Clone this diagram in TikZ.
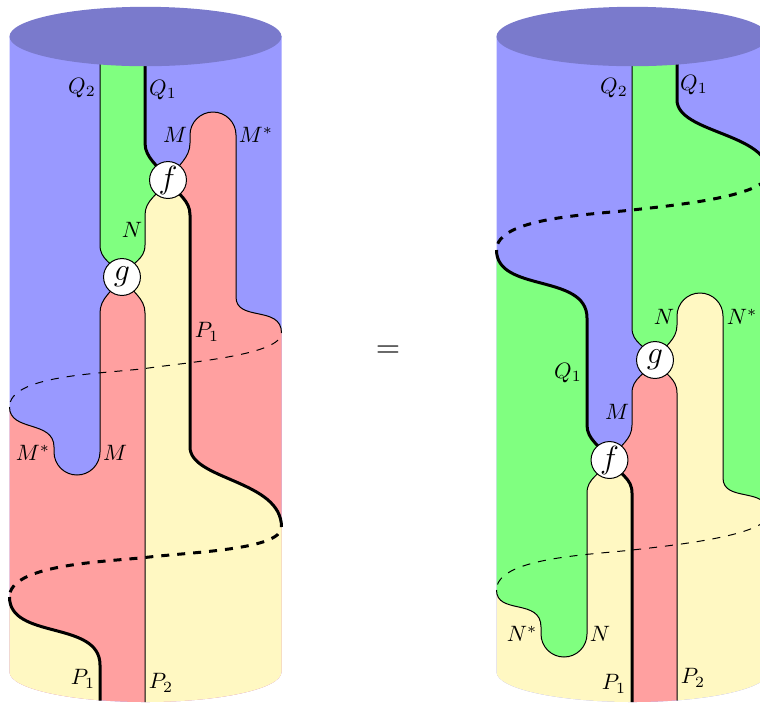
\documentclass[tikz,border=0pt]{standalone}
\definecolor{cblue}{RGB}{153,153,255}
\definecolor{ctop}{RGB}{122,122,204}
\definecolor{cgreen}{RGB}{128,255,128}
\definecolor{cred}{RGB}{255,160,160}
\definecolor{cyel}{RGB}{255,248,194}
\tikzset{
  thinline/.style={draw=black,line width=0.45pt},
  thickline/.style={draw=black,line width=1.35pt},
  thindash/.style={thinline,dash pattern=on 3.6pt off 3.6pt,dash phase=3.6pt},
  thickdash/.style={thickline,dash pattern=on 3.6pt off 3.6pt,dash phase=3.6pt},
  morph/.style={circle,draw=black,fill=white,line width=0.45pt,minimum size=16.6pt,inner sep=0pt,font=\Large},
  lab/.style={inner sep=0pt}
}
\begin{document}
\begin{tikzpicture}[x=0.45pt,y=-0.45pt]
\useasboundingbox (0,0) rectangle (760,703);
\clip (0,0) rectangle (760,703);
\coordinate (fL) at (168,180);
\coordinate (gL) at (122,277);
\coordinate (fR) at (609.5,460);
\coordinate (gR) at (655,360);
% ---------- left cylinder fills
\fill[cblue] (9.5,36) -- (281.5,36) -- (281.5,672) arc[start angle=0,end angle=180,x radius=136,y radius=30] -- cycle;
\begin{scope}
\clip (9.5,36) -- (281.5,36) -- (281.5,672) arc[start angle=0,end angle=180,x radius=136,y radius=30] -- cycle;
\fill[cred] (281.5,333) .. controls (281.5,305) and (236,322) .. (236,297) -- (236,135)
  .. controls (236,122.3) and (225.7,112) .. (213,112) .. controls (200.3,112) and (190,122.3) .. (190,135)
  -- (190,143) .. controls (190,158) and (178,165) .. (fL) -- (gL)
  .. controls (112,292) and (100,298) .. (100,313) -- (100,452)
  .. controls (100,464.7) and (89.7,475) .. (77,475) .. controls (64.3,475) and (54,464.7) .. (54,452)
  -- (54,447) .. controls (54,420) and (9.5,432) .. (9.5,407) -- (9.5,710) -- (281.5,710) -- cycle;
\fill[cyel] (fL) .. controls (178,195) and (190,200) .. (190,215) -- (190,447)
  .. controls (190,480) and (281.5,480) .. (281.5,527) -- (281.5,710) -- (145,710) -- (145,313)
  .. controls (145,298) and (132,292) .. (gL) .. controls (132,262) and (145,260) .. (145,245)
  -- (145,215) .. controls (145,200) and (158,195) .. (fL) -- cycle;
\fill[cyel] (9.5,597) .. controls (9.5,640) and (100,620) .. (100,665) -- (100,710) -- (9.5,710) -- cycle;
\fill[cgreen] (100,30) -- (100,245) .. controls (100,260) and (112,262) .. (gL)
  .. controls (132,262) and (145,260) .. (145,245) -- (145,215)
  .. controls (145,200) and (158,195) .. (fL) .. controls (158,165) and (145,158) .. (145,143) -- (145,30) -- cycle;
\end{scope}
% ---------- left strands
\draw[thinline] (100,60) -- (100,245) .. controls (100,260) and (112,262) .. (gL);
\draw[thickline] (145,60) -- (145,143) .. controls (145,158) and (158,165) .. (fL);
\draw[thinline] (236,135) .. controls (236,122.3) and (225.7,112) .. (213,112) .. controls (200.3,112) and (190,122.3) .. (190,135)
  -- (190,143) .. controls (190,158) and (178,165) .. (fL);
\draw[thinline] (fL) .. controls (158,195) and (145,200) .. (145,215) -- (145,245) .. controls (145,260) and (132,262) .. (gL);
\draw[thickline] (fL) .. controls (178,195) and (190,200) .. (190,215) -- (190,447)
  .. controls (190,480) and (281.5,480) .. (281.5,527);
\draw[thinline] (236,135) -- (236,297) .. controls (236,322) and (281.5,305) .. (281.5,333);
\draw[thinline] (gL) .. controls (112,292) and (100,298) .. (100,313) -- (100,452)
  .. controls (100,464.7) and (89.7,475) .. (77,475) .. controls (64.3,475) and (54,464.7) .. (54,452)
  -- (54,447) .. controls (54,420) and (9.5,432) .. (9.5,407);
\draw[thinline] (gL) .. controls (132,292) and (145,298) .. (145,313) -- (145,702);
\draw[thindash] (281.5,333) .. controls (281.5,355) and (190,362) .. (145,368.5) .. controls (100,374) and (9.5,375) .. (9.5,407);
\draw[thickdash] (281.5,527) .. controls (281.5,550) and (190,552) .. (145,557.5) .. controls (100,562) and (9.5,565) .. (9.5,597);
\draw[thickline] (9.5,597) .. controls (9.5,640) and (100,620) .. (100,665) -- (100,700.5);
\fill[ctop] (145.5,36.5) ellipse [x radius=136,y radius=29.7];
% ---------- right cylinder fills
\fill[cblue] (496.5,36) -- (768.5,36) -- (768.5,672) arc[start angle=0,end angle=180,x radius=136,y radius=30] -- cycle;
\begin{scope}
\clip (496.5,36) -- (768.5,36) -- (768.5,672) arc[start angle=0,end angle=180,x radius=136,y radius=30] -- cycle;
\fill[cgreen] (632,30) -- (677,30) -- (677,100) .. controls (677,133) and (768.5,133) .. (768.5,173)
  -- (768.5,514) .. controls (768.5,486) and (723,503) .. (723,478) -- (723,316)
  .. controls (723,303.3) and (712.7,293) .. (700,293) .. controls (687.3,293) and (677,303.3) .. (677,316)
  -- (677,325) .. controls (677,340) and (665,345) .. (gR) .. controls (645,345) and (632,343) .. (632,328) -- cycle;
\fill[cgreen] (496.5,250) .. controls (496.5,293) and (587,273) .. (587,318) -- (587,425)
  .. controls (587,440) and (600,445) .. (fR) .. controls (600,475) and (587,478) .. (587,493) -- (587,634)
  .. controls (587,646.7) and (576.7,657) .. (564,657) .. controls (551.3,657) and (541,646.7) .. (541,634)
  -- (541,627) .. controls (541,598) and (496.5,615) .. (496.5,590) -- cycle;
\fill[cyel] (723,316) -- (723,478) .. controls (723,503) and (768.5,486) .. (768.5,514) -- (768.5,710)
  -- (677,710) -- (677,393) .. controls (677,378) and (665,375) .. (gR) .. controls (665,345) and (677,340) .. (677,325)
  -- (677,316) .. controls (677,303.3) and (687.3,293) .. (700,293) .. controls (712.7,293) and (723,303.3) .. (723,316) -- cycle;
\fill[cyel] (496.5,590) .. controls (496.5,615) and (541,598) .. (541,627) -- (541,634)
  .. controls (541,646.7) and (551.3,657) .. (564,657) .. controls (576.7,657) and (587,646.7) .. (587,634)
  -- (587,493) .. controls (587,478) and (600,475) .. (fR) .. controls (620,475) and (632,478) .. (632,493)
  -- (632,710) -- (496.5,710) -- cycle;
\fill[cred] (gR) .. controls (645,375) and (632,378) .. (632,393) -- (632,425) .. controls (632,440) and (620,445) .. (fR)
  .. controls (620,475) and (632,478) .. (632,493) -- (632,710) -- (677,710) -- (677,393) .. controls (677,378) and (665,375) .. (gR) -- cycle;
\end{scope}
% ---------- right strands
\draw[thinline] (632,60) -- (632,328) .. controls (632,343) and (645,345) .. (gR);
\draw[thickline] (677,60) -- (677,100) .. controls (677,133) and (768.5,133) .. (768.5,173);
\draw[thickdash] (768.5,173) .. controls (768.5,196) and (677,205) .. (632,210) .. controls (587,215) and (496.5,218) .. (496.5,250);
\draw[thickline] (496.5,250) .. controls (496.5,293) and (587,273) .. (587,318) -- (587,425) .. controls (587,440) and (600,445) .. (fR);
\draw[thinline] (723,316) .. controls (723,303.3) and (712.7,293) .. (700,293) .. controls (687.3,293) and (677,303.3) .. (677,316)
  -- (677,325) .. controls (677,340) and (665,345) .. (gR);
\draw[thinline] (723,316) -- (723,478) .. controls (723,503) and (768.5,486) .. (768.5,514);
\draw[thinline] (gR) .. controls (645,375) and (632,378) .. (632,393) -- (632,425) .. controls (632,440) and (620,445) .. (fR);
\draw[thinline] (gR) .. controls (665,375) and (677,378) .. (677,393) -- (677,700.5);
\draw[thinline] (fR) .. controls (600,475) and (587,478) .. (587,493) -- (587,634)
  .. controls (587,646.7) and (576.7,657) .. (564,657) .. controls (551.3,657) and (541,646.7) .. (541,634)
  -- (541,627) .. controls (541,598) and (496.5,615) .. (496.5,590);
\draw[thickline] (fR) .. controls (620,475) and (632,478) .. (632,493) -- (632,702);
\draw[thindash] (768.5,514) .. controls (768.5,535) and (677,545) .. (632,550) .. controls (587,555) and (496.5,558) .. (496.5,590);
\fill[ctop] (632.5,36.5) ellipse [x radius=136,y radius=29.7];
% ---------- vertices
\node[morph] (f1) at (fL) {$f$};
\node[morph] (g1) at (gL) {$g$};
\node[morph] (f2) at (fR) {$f$};
\node[morph] (g2) at (gR) {$g$};
% ---------- labels
\node[lab] (a1) at (82,88) {$Q_2$};
\node[lab] (a2) at (163,90) {$Q_1$};
\node[lab] (a3) at (175,135) {$M$};
\node[lab] (a4) at (256,135) {$M^*$};
\node[lab] (a5) at (132,230) {$N$};
\node[lab] (a6) at (207,332) {$P_1$};
\node[lab] (a7) at (33,453) {$M^*$};
\node[lab] (a8) at (115,453) {$M$};
\node[lab] (a9) at (83,679) {$P_1$};
\node[lab] (a10) at (161,683) {$P_2$};
\node[lab,font=\Large] (eq) at (388,352) {$=$};
\node[lab] (b1) at (614,88) {$Q_2$};
\node[lab] (b2) at (694,85) {$Q_1$};
\node[lab] (b3) at (664,317) {$N$};
\node[lab] (b4) at (742,317) {$N^*$};
\node[lab] (b5) at (568,373) {$Q_1$};
\node[lab] (b6) at (617,412) {$M$};
\node[lab] (b7) at (522,634) {$N^*$};
\node[lab] (b8) at (600,634) {$N$};
\node[lab] (b9) at (614,684) {$P_1$};
\node[lab] (b10) at (693,678) {$P_2$};
\end{tikzpicture}
\end{document}
